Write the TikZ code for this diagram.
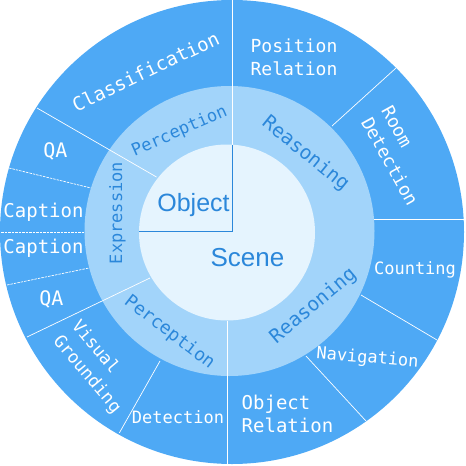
\documentclass[tikz,border=0pt]{standalone}
\usepackage{fontspec}
\setmainfont{Liberation Sans}
\newfontfamily\monof{DejaVu Sans Mono}
\definecolor{outerblue}{HTML}{4EA9F5}
\definecolor{midblue}{HTML}{A2D4FA}
\definecolor{innerblue}{HTML}{E5F4FE}
\definecolor{textblue}{HTML}{2B87DA}
\begin{document}
\begin{tikzpicture}[x=1pt,y=-1pt,
  sep/.style={white, line width=0.7pt},
  sepd/.style={sep, dash pattern=on 2.5pt off 1pt},
  objline/.style={draw=textblue, line width=1pt},
  outerlab/.style={text=white, inner sep=0pt, align=left, font=\monof\fontsize{18}{23}\selectfont},
  midlab/.style={text=textblue, inner sep=0pt, font=\monof\fontsize{17}{21}\selectfont},
  innerlab/.style={text=textblue, inner sep=0pt, font=\fontsize{25}{30}\selectfont}]
\useasboundingbox (0,0) rectangle (466,466);
% rings
\fill[outerblue] (232,232) circle[radius=232];
\fill[midblue] (229.5,231) circle[radius=145];
\fill[innerblue] (227,232.5) circle[radius=88];
% coordinates of separators
\coordinate (t0) at (232,0);
\coordinate (t1) at (232,144.5);
\coordinate (oc) at (232,231);
\coordinate (ol) at (139,231);
\coordinate (a0) at (37,108);
\coordinate (a1) at (156.5,177);
\coordinate (b0) at (9,168);
\coordinate (b1) at (91,188);
\coordinate (c0) at (1,232);
\coordinate (c1) at (84.5,232);
\coordinate (d0) at (7,285);
\coordinate (d1) at (89,268);
\coordinate (e0) at (27,337);
\coordinate (e1) at (150,278);
\coordinate (f0) at (119.3,433);
\coordinate (f1) at (160,361);
\coordinate (g0) at (227,464);
\coordinate (g1) at (227,320.5);
\coordinate (h0) at (366,421);
\coordinate (h1) at (306,356);
\coordinate (i0) at (437,340);
\coordinate (i1) at (361,295);
\coordinate (j0) at (463.6,219);
\coordinate (j1) at (374.4,219);
\coordinate (k0) at (396,68);
\coordinate (k1) at (332,126);
% separators
\draw[sep] (t0) -- (t1);
\draw[sep] (a0) -- (a1);
\draw[sepd] (b0) -- (b1);
\draw[sepd] (c0) -- (c1);
\draw[sepd] (d0) -- (d1);
\draw[sep] (e0) -- (e1);
\draw[sep] (f0) -- (f1);
\draw[sep] (g0) -- (g1);
\draw[sep] (h0) -- (h1);
\draw[sep] (i0) -- (i1);
\draw[sep] (j0) -- (j1);
\draw[sep] (k0) -- (k1);
\draw[objline] (t1) -- (oc) -- (ol);
% inner labels
\node[innerlab, anchor=base] (object) at (193.5,211) {Object};
\node[innerlab, anchor=base, font=\fontsize{26}{30}\selectfont] (scene) at (247.5,266) {Scene};
% middle labels
\node[midlab, rotate=23.7] (percA) at (179.5,131.5) {Perception};
\node[midlab, rotate=-39, font=\monof\fontsize{19.5}{23}\selectfont] (reasA) at (305.5,154) {Reasoning};
\node[midlab, rotate=90] (expr) at (117.5,213) {Expression};
\node[midlab, rotate=-37.5, font=\monof\fontsize{18}{22}\selectfont] (percB) at (169.5,332.5) {Perception};
\node[midlab, rotate=40, font=\monof\fontsize{19.5}{23}\selectfont] (reasB) at (313.5,306) {Reasoning};
% outer labels
\node[outerlab, rotate=25.5, font=\monof\fontsize{19}{23}\selectfont] (cls) at (145.5,71.3) {Classification};
\node[outerlab] (pos) at (294,57.5) {Position\\Relation};
\node[outerlab, rotate=-61] (room) at (400,156) {Room\\Detection};
\node[outerlab, anchor=base, font=\monof\fontsize{17}{21}\selectfont] (count) at (415,274) {Counting};
\node[outerlab, rotate=-4.6, font=\monof\fontsize{17}{21}\selectfont] (nav) at (367.5,358.3) {Navigation};
\node[outerlab, font=\monof\fontsize{19}{23}\selectfont] (objrel) at (287.5,413.5) {Object\\Relation};
\node[outerlab, anchor=base, font=\monof\fontsize{17}{21}\selectfont] (det) at (178,423) {Detection};
\node[outerlab, rotate=-50, font=\monof\fontsize{17.5}{24}\selectfont] (vg) at (96,367) {Visual\\Grounding};
\node[outerlab, anchor=base, font=\monof\fontsize{20}{24}\selectfont] (qa2) at (51.5,305) {QA};
\node[outerlab, anchor=base, font=\monof\fontsize{19}{23}\selectfont] (cap2) at (43.5,253) {Caption};
\node[outerlab, anchor=base, font=\monof\fontsize{19}{23}\selectfont] (cap1) at (43.5,217) {Caption};
\node[outerlab, anchor=base, font=\monof\fontsize{20}{24}\selectfont] (qa1) at (55.5,157) {QA};
\end{tikzpicture}
\end{document}
